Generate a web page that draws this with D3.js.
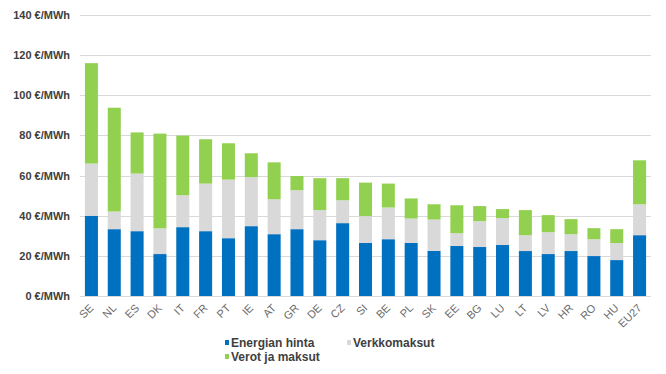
<!DOCTYPE html>
<html lang="fi">
<head>
    <meta charset="UTF-8">
    <title>Sähkön hinta</title>
    <style>
        body {
            margin: 0;
            background: #fff;
            font-family: "Liberation Sans", Arial, sans-serif;
        }
        svg text {
            font-family: "Liberation Sans", Arial, sans-serif;
        }
    </style>
    <script src="https://d3js.org/d3.v7.min.js"></script>
</head>
<body>
    <svg width="666" height="374"></svg>
    <script>
        const countries = ["SE", "NL", "ES", "DK", "IT", "FR", "PT", "IE", "AT", "GR", "DE", "CZ", "SI",
            "BE", "PL", "SK", "EE", "BG", "LU", "LT", "LV", "HR", "RO", "HU", "EU27"];
        const energy = [40, 33.3, 32.3, 20.9, 34.3, 32.3, 28.8, 34.8, 30.8, 33.3, 27.8, 36.3, 26.4,
            28.3, 26.4, 22.5, 24.9, 24.4, 25.4, 22.4, 20.9, 22.4, 19.9, 17.9, 30.3];
        const network = [26, 8.8, 28.7, 12.8, 15.9, 23.7, 29.2, 24.4, 17.4, 19.4, 15, 11.4, 13.4,
            15.8, 12.2, 15.6, 6.4, 12.9, 13.4, 7.9, 10.9, 8.4, 8.4, 8.5, 15.4];
        const taxes = [50, 51.7, 20.5, 47.2, 29.7, 22.1, 18.1, 11.9, 18.4, 7.1, 15.9, 11, 16.7,
            11.9, 10, 7.6, 13.9, 7.5, 4.5, 12.5, 8.5, 7.5, 5.5, 6.9, 21.9];
        const seriesNames = ["Energian hinta", "Verkkomaksut", "Verot ja maksut"];
        const yTicks = [0, 20, 40, 60, 80, 100, 120, 140];

        const colors = ["#0070c0", "#d9d9d9", "#92d050"];

        const svg = d3.select("svg");
        const plotLeft = 80, plotRight = 651, plotTop = 15, plotBottom = 296;

        const rows = countries.map((c, i) => ({
            country: c,
            energy: energy[i],
            network: network[i],
            taxes: taxes[i]
        }));
        const keys = ["energy", "network", "taxes"];
        const stacked = d3.stack().keys(keys)(rows);

        const x = d3.scaleBand()
            .domain(countries)
            .range([plotLeft, plotRight])
            .paddingInner(0.43)
            .paddingOuter(0.215);

        const y = d3.scaleLinear()
            .domain([0, 140])
            .range([plotBottom, plotTop]);

        // gridlines
        svg.append("g")
            .selectAll("line")
            .data(yTicks)
            .enter().append("line")
            .attr("x1", plotLeft)
            .attr("x2", plotRight)
            .attr("y1", d => Math.round(y(d)) + 0.5)
            .attr("y2", d => Math.round(y(d)) + 0.5)
            .attr("stroke", "#d9d9d9")
            .attr("stroke-width", 1);

        // y labels
        svg.append("g")
            .selectAll("text")
            .data(yTicks)
            .enter().append("text")
            .attr("x", 70)
            .attr("y", d => y(d) + 4)
            .attr("text-anchor", "end")
            .attr("font-size", "11px")
            .attr("font-weight", "bold")
            .attr("fill", "#404040")
            .text(d => d + " €/MWh");

        // bars
        svg.append("g")
            .selectAll("g")
            .data(stacked)
            .enter().append("g")
            .attr("fill", (d, i) => colors[i])
            .selectAll("rect")
            .data(d => d)
            .enter().append("rect")
            .attr("x", d => x(d.data.country))
            .attr("width", x.bandwidth())
            .attr("y", d => y(d[1]))
            .attr("height", d => y(d[0]) - y(d[1]));

        // x labels
        svg.append("g")
            .selectAll("text")
            .data(countries)
            .enter().append("text")
            .attr("transform", d => `translate(${x(d) + x.bandwidth() / 2},${plotBottom + 10}) rotate(-45)`)
            .attr("text-anchor", "end")
            .attr("dy", "0.35em")
            .attr("font-size", "11px")
            .attr("fill", "#6b6b6b")
            .text(d => d);

        // legend
        const legendPos = [[225, 343], [347, 343], [225, 357]];
        const legend = svg.append("g")
            .selectAll("g")
            .data(seriesNames)
            .enter().append("g")
            .attr("transform", (d, i) => `translate(${legendPos[i][0]},${legendPos[i][1]})`);

        legend.append("rect")
            .attr("x", 0)
            .attr("y", -3)
            .attr("width", 4)
            .attr("height", 5)
            .attr("fill", (d, i) => colors[i]);

        legend.append("text")
            .attr("x", 6)
            .attr("y", 4)
            .attr("font-size", "12px")
            .attr("font-weight", "bold")
            .attr("fill", "#404040")
            .text(d => d);
    </script>
</body>
</html>
